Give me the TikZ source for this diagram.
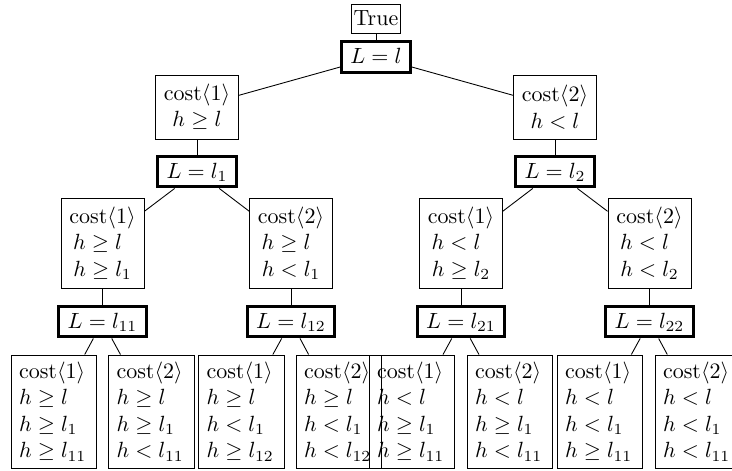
\documentclass[tikz,border=0pt]{standalone}
\begin{document}
\begin{tikzpicture}[x=0.4545pt,y=-0.4545pt,
  every node/.style={font=\fontsize{10}{12}\selectfont},
  tbox/.style={draw, line width=0.4pt, inner xsep=1pt, inner ysep=0pt, minimum height=13.2pt, minimum width=22pt},
  lbox/.style={draw, line width=1.4pt, inner xsep=4pt, inner ysep=2.5pt, text height=7.5pt, text depth=1.5pt},
  cbox/.style={draw, line width=0.4pt, align=center, minimum width=37.7pt, minimum height=29.1pt, inner sep=0pt},
  mbox/.style={draw, line width=0.4pt, align=center, minimum width=37.7pt, minimum height=40.9pt, inner sep=0pt},
  leafbox/.style={draw, line width=0.4pt, align=left, text width=31.8pt, inner xsep=3.5pt, inner ysep=0pt, minimum height=51.4pt},
  conn/.style={line width=0.4pt}
]
\useasboundingbox (0,0) rectangle (732,470);
\node[tbox] (T) at (376,18.5) {True};
\node[lbox] (R) at (376,57) {$L=l$};
\node[cbox] (A) at (197,107) {cost$\langle1\rangle$\\$h\geq l$};
\node[cbox] (B) at (555,107) {cost$\langle2\rangle$\\$h<l$};
\node[lbox] (LA) at (197,171.5) {$L=l_1$};
\node[lbox] (LB) at (555,171.5) {$L=l_2$};
\node[mbox] (AA) at (102.5,243) {cost$\langle1\rangle$\\$h\geq l\phantom{{}_1}$\\$h\geq l_1$};
\node[mbox] (AB) at (291,243) {cost$\langle2\rangle$\\$h\geq l\phantom{{}_1}$\\$h<l_1$};
\node[mbox] (BA) at (461,243) {cost$\langle1\rangle$\\$h<l\phantom{{}_2}$\\$h\geq l_2$};
\node[mbox] (BB) at (649.5,243) {cost$\langle2\rangle$\\$h<l\phantom{{}_2}$\\$h<l_2$};
\node[lbox] (LAA) at (102.5,321.5) {$L=l_{11}$};
\node[lbox] (LAB) at (291,321.5) {$L=l_{12}$};
\node[lbox] (LBA) at (461,321.5) {$L=l_{21}$};
\node[lbox] (LBB) at (649.5,321.5) {$L=l_{22}$};
\node[leafbox] (F1) at (54,411.5) {cost$\langle1\rangle$\\$h\geq l$\\$h\geq l_1$\\$h\geq l_{11}$};
\node[leafbox] (F2) at (151.5,411.5) {cost$\langle2\rangle$\\$h\geq l$\\$h\geq l_1$\\$h<l_{11}$};
\node[leafbox] (F3) at (241.5,411.5) {cost$\langle1\rangle$\\$h\geq l$\\$h<l_1$\\$h\geq l_{12}$};
\node[leafbox] (F4) at (339,411.5) {cost$\langle2\rangle$\\$h\geq l$\\$h<l_1$\\$h<l_{12}$};
\node[leafbox] (F5) at (412,411.5) {cost$\langle1\rangle$\\$h<l$\\$h\geq l_1$\\$h\geq l_{11}$};
\node[leafbox] (F6) at (510,411.5) {cost$\langle2\rangle$\\$h<l$\\$h\geq l_1$\\$h<l_{11}$};
\node[leafbox] (F7) at (600,411.5) {cost$\langle1\rangle$\\$h<l$\\$h<l_1$\\$h\geq l_{11}$};
\node[leafbox] (F8) at (698,411.5) {cost$\langle2\rangle$\\$h<l$\\$h<l_1$\\$h<l_{11}$};
\draw[conn] (T) -- (R);
\draw[conn] (R) -- (A);
\draw[conn] (R) -- (B);
\draw[conn] (A) -- (LA);
\draw[conn] (B) -- (LB);
\draw[conn] (LA) -- (AA);
\draw[conn] (LA) -- (AB);
\draw[conn] (LB) -- (BA);
\draw[conn] (LB) -- (BB);
\draw[conn] (AA) -- (LAA);
\draw[conn] (AB) -- (LAB);
\draw[conn] (BA) -- (LBA);
\draw[conn] (BB) -- (LBB);
\draw[conn] (LAA) -- (F1);
\draw[conn] (LAA) -- (F2);
\draw[conn] (LAB) -- (F3);
\draw[conn] (LAB) -- (F4);
\draw[conn] (LBA) -- (F5);
\draw[conn] (LBA) -- (F6);
\draw[conn] (LBB) -- (F7);
\draw[conn] (LBB) -- (F8);
\end{tikzpicture}
\end{document}
